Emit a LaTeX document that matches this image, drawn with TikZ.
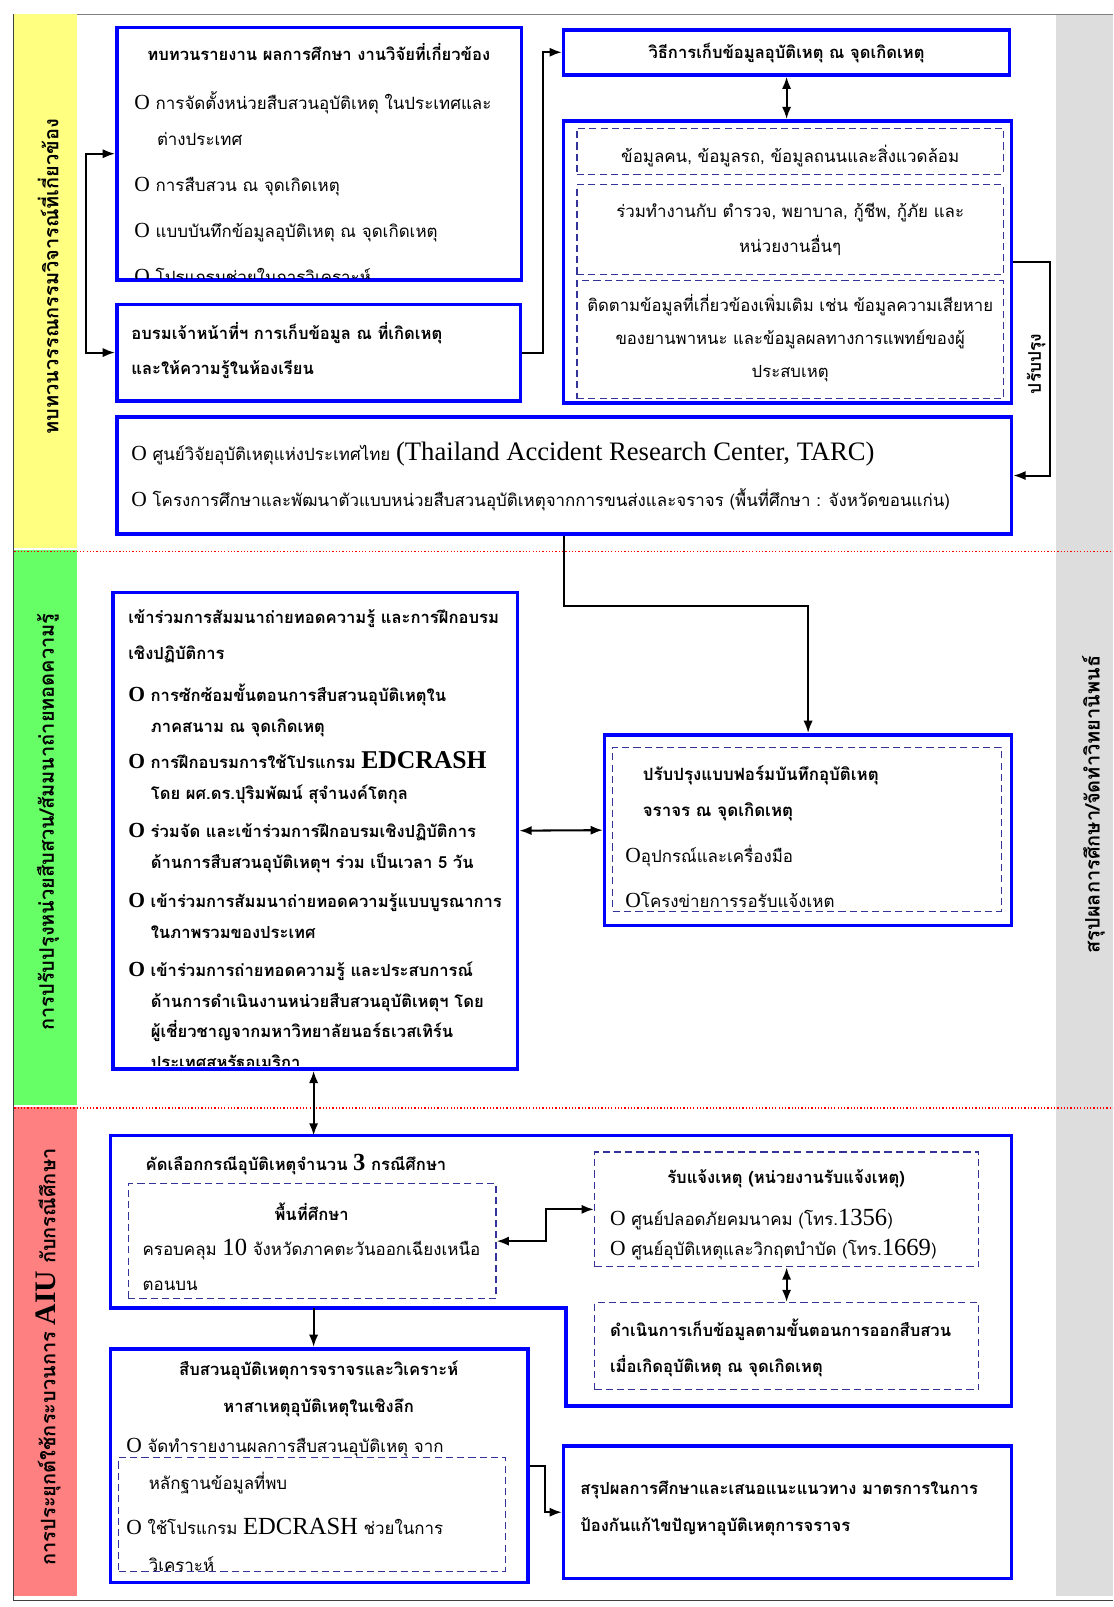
\documentclass[tikz,border=0pt]{standalone}
\usepackage{fontspec}
\setmainfont{Liberation Serif}
\newfontfamily\thai[Script=Thai]{Loma}
\usepackage{tikz}
\usetikzlibrary{arrows.meta}
\usetikzlibrary{positioning}

\definecolor{boxblue}{RGB}{0,0,255}
\definecolor{dashblue}{RGB}{51,51,153}
\definecolor{bandyellow}{RGB}{255,255,128}
\definecolor{bandgreen}{RGB}{102,255,102}
\definecolor{bandred}{RGB}{255,128,128}
\definecolor{bandgray}{RGB}{221,221,221}

\newcommand{\bul}{{\rmfamily\fontsize{21pt}{21pt}\selectfont O}\ }
\newcommand{\lat}[1]{{\rmfamily\fontsize{24pt}{24pt}\selectfont #1}}
\newcommand{\indt}{\hspace*{22pt}}

\begin{document}
\begin{tikzpicture}[x=1pt, y=-1pt,
    blue box/.style={draw=boxblue, line width=3.5pt, inner sep=0pt},
    dash box/.style={draw=dashblue, line width=1.1pt,
      dash pattern=on 7pt off 4pt, inner sep=0pt},
    txt/.style={inner sep=0pt, align=left,
      font=\thai\fontsize{16.5pt}{35pt}\selectfont},
    btxt/.style={txt, font=\thai\bfseries\fontsize{16.2pt}{35pt}\selectfont},
    side label/.style={inner sep=0pt, rotate=90,
      font=\thai\bfseries\fontsize{19.5pt}{22pt}\selectfont},
    arr/.style={-{Latex[length=12pt,width=9pt]}, line width=2pt},
    dbl/.style={{Latex[length=12pt,width=9pt]}-{Latex[length=12pt,width=9pt]}, line width=2pt}]
  \useasboundingbox (0,0) rectangle (1086,1568);

  \fill[bandyellow] (14,14) rectangle (75,535);
  \fill[bandgreen] (14,537) rectangle (75,1078);
  \fill[bandred] (14,1080) rectangle (75,1557);
  \fill[bandgray] (1030,14) rectangle (1086,1557);
  \draw[gray, line width=1pt] (75,14) -- (1086,14);
  \draw[black!75, line width=1pt] (13,14) -- (13,1562) -- (1086,1562);
  \draw[red, dotted, line width=1.2pt] (14,538) -- (1086,538);
  \draw[red, dotted, line width=1.2pt] (14,1081) -- (1086,1081);

  \node[side label] (litlabel) at (47,270) {ทบทวนวรรณกรรมวิจารณ์ที่เกี่ยวข้อง};
  \node[side label] (unitlabel) at (47,802)
    {การปรับปรุงหน่วยสืบสวน/สัมมนาถ่ายทอดความรู้};
  \node[side label] (aiulabel) at (47,1324)
    {การประยุกต์ใช้กระบวนการ {\rmfamily\fontsize{29pt}{29pt}\selectfont AIU} กับกรณีศึกษา};
  \node[side label] (thesislabel) at (1067,785) {สรุปผลการศึกษา/จัดทำวิทยานิพนธ์};

  % section 1
  \node[blue box, minimum width=395pt, minimum height=246pt] (review) at (311.5,150) {};
  \node[btxt] (reviewtitle) at (311,51) {ทบทวนรายงาน ผลการศึกษา งานวิจัยที่เกี่ยวข้อง};
  \begin{scope}
    \clip ([shift={(2,2)}]review.north west) rectangle ([shift={(-2,-3)}]review.south east);
    \node[txt, anchor=west] (reviewlist) at (131,183) {%
      \bul การจัดตั้งหน่วยสืบสวนอุบัติเหตุ ในประเทศและ\\
      \indt ต่างประเทศ\\[10pt]
      \bul การสืบสวน ณ จุดเกิดเหตุ\\[10pt]
      \bul แบบบันทึกข้อมูลอุบัติเหตุ ณ จุดเกิดเหตุ\\[10pt]
      \bul โปรแกรมช่วยในการวิเคราะห์};
  \end{scope}
  \node[blue box, minimum width=394pt, minimum height=94pt] (train) at (311,344) {};
  \node[btxt, anchor=west] (traintxt) at (128,342)
    {อบรมเจ้าหน้าที่ฯ การเก็บข้อมูล ณ ที่เกิดเหตุ\\ และให้ความรู้ในห้องเรียน};
  \node[blue box, minimum width=435pt, minimum height=44pt] (method) at (767.5,51) {};
  \node[btxt] (methodtxt) at (767.5,52) {วิธีการเก็บข้อมูลอุบัติเหตุ ณ จุดเกิดเหตุ};
  \node[blue box, minimum width=437pt, minimum height=275pt] (data) at (768.5,255.5) {};
  \node[dash box, minimum width=416pt, minimum height=45pt] (people) at (771,147.5) {};
  \node[dash box, minimum width=416pt, minimum height=88pt] (agency) at (771,224) {};
  \node[dash box, minimum width=416pt, minimum height=115pt] (follow) at (771,331.5) {};
  \node[txt, align=center] (peopletxt) at (771,152)
    {ข้อมูลคน, ข้อมูลรถ, ข้อมูลถนนและสิ่งแวดล้อม};
  \node[txt, align=center, font=\thai\fontsize{16.5pt}{34pt}\selectfont] (agencytxt) at (771,224)
    {ร่วมทำงานกับ ตำรวจ, พยาบาล, กู้ชีพ, กู้ภัย และ\\ หน่วยงานอื่นๆ};
  \node[txt, align=center, font=\thai\fontsize{16.3pt}{32pt}\selectfont] (followtxt) at (771,330)
    {ติดตามข้อมูลที่เกี่ยวข้องเพิ่มเติม เช่น ข้อมูลความเสียหาย\\
     ของยานพาหนะ และข้อมูลผลทางการแพทย์ของผู้\\ ประสบเหตุ};
  \node[blue box, minimum width=873pt, minimum height=114pt] (tarc) at (550.5,464) {};
  \node[txt, anchor=west, font=\thai\fontsize{16.5pt}{45pt}\selectfont] (tarctxt) at (128,464.5)
    {\bul ศูนย์วิจัยอุบัติเหตุแห่งประเทศไทย {\rmfamily\fontsize{26pt}{26pt}\selectfont (Thailand Accident Research Center, TARC)}\\
     \bul โครงการศึกษาและพัฒนาตัวแบบหน่วยสืบสวนอุบัติเหตุจากการขนส่งและจราจร (พื้นที่ศึกษา : จังหวัดขอนแก่น)};
  \node[txt, font=\thai\bfseries\fontsize{17pt}{20pt}\selectfont] (improve) at (1011,355) [rotate=90] {ปรับปรุง};

  \coordinate (fork) at (84,247);
  \draw[arr] (fork) |- (review.west);
  \draw[arr] (fork) |- (train.west);
  \draw[arr] (train.east) -- ++(20,0) |- (method.west);
  \draw[dbl] (method.south) -- (method.south |- data.north);
  \draw[arr] (data.east) -- ++(36,0) |- (tarc.east);

  % section 2
  \node[blue box, minimum width=395pt, minimum height=465pt] (seminar) at (307.5,810.5) {};
  \begin{scope}
    \clip ([shift={(2,2)}]seminar.north west) rectangle ([shift={(-2,-5)}]seminar.south east);
    \node[btxt, anchor=west, font=\thai\bfseries\fontsize{16.2pt}{30pt}\selectfont] (seminartxt) at (125,821) {%
      เข้าร่วมการสัมมนาถ่ายทอดความรู้ และการฝึกอบรม\\[5pt]
      เชิงปฏิบัติการ\\[11pt]
      \bul การซักซ้อมขั้นตอนการสืบสวนอุบัติเหตุใน\\
      \indt ภาคสนาม ณ จุดเกิดเหตุ\\[5pt]
      \bul การฝึกอบรมการใช้โปรแกรม {\rmfamily\fontsize{25pt}{25pt}\selectfont EDCRASH}\\
      \indt โดย ผศ.ดร.ปุริมพัฒน์ สุจำนงค์โตกุล\\[8pt]
      \bul ร่วมจัด และเข้าร่วมการฝึกอบรมเชิงปฏิบัติการ\\
      \indt ด้านการสืบสวนอุบัติเหตุฯ ร่วม เป็นเวลา 5 วัน\\[8pt]
      \bul เข้าร่วมการสัมมนาถ่ายทอดความรู้แบบบูรณาการ\\
      \indt ในภาพรวมของประเทศ\\[7pt]
      \bul เข้าร่วมการถ่ายทอดความรู้ และประสบการณ์\\
      \indt ด้านการดำเนินงานหน่วยสืบสวนอุบัติเหตุฯ โดย\\
      \indt ผู้เชี่ยวชาญจากมหาวิทยาลัยนอร์ธเวสเทิร์น\\
      \indt ประเทศสหรัฐอเมริกา};
  \end{scope}
  \node[blue box, minimum width=397pt, minimum height=186pt] (form) at (788.5,810) {};
  \node[dash box, minimum width=379pt, minimum height=160pt] (forminner) at (787.5,809) {};
  \node[txt, anchor=west, font=\thai\fontsize{16.5pt}{44pt}\selectfont] (formtxt) at (610,816)
    {\hspace*{17pt}{\bfseries ปรับปรุงแบบฟอร์มบันทึกอุบัติเหตุ}\\[-8pt]
     \hspace*{17pt}{\bfseries จราจร ณ จุดเกิดเหตุ}\\
     {\rmfamily\fontsize{21pt}{21pt}\selectfont O}อุปกรณ์และเครื่องมือ\\
     {\rmfamily\fontsize{21pt}{21pt}\selectfont O}โครงข่ายการรอรับแจ้งเหต};

  \draw[arr] (tarc.south) -- ++(0,69) -| (form.north);
  \draw[dbl] (seminar.east) -- (form.west);

  % section 3
  \draw[blue box] (108,1108) -- (987,1108) -- (987,1372) -- (552,1372)
    -- (552,1276) -- (108,1276) -- cycle;
  \coordinate (casetop) at (306,1108);
  \coordinate (casebot) at (306,1276);
  \node[btxt, anchor=west] (casetitle) at (142,1136)
    {คัดเลือกกรณีอุบัติเหตุจำนวน {\rmfamily\fontsize{24pt}{24pt}\selectfont 3} กรณีศึกษา};
  \node[dash box, minimum width=359pt, minimum height=112pt] (area) at (304.5,1211) {};
  \node[btxt] (areatitle) at (304,1182) {พื้นที่ศึกษา};
  \node[txt, anchor=west, font=\thai\fontsize{16.5pt}{34pt}\selectfont] (areatxt) at (139,1234)
    {ครอบคลุม \lat{10} จังหวัดภาคตะวันออกเฉียงเหนือ\\ ตอนบน};
  \node[dash box, minimum width=375pt, minimum height=112pt] (notify) at (767.5,1180) {};
  \node[btxt] (notifytitle) at (767,1150) {รับแจ้งเหตุ (หน่วยงานรับแจ้งเหตุ)};
  \node[txt, anchor=west, font=\thai\fontsize{16.5pt}{29pt}\selectfont] (notifytxt) at (595,1204.5)
    {\bul ศูนย์ปลอดภัยคมนาคม (โทร.\lat{1356})\\
     \bul ศูนย์อุบัติเหตุและวิกฤตบำบัด (โทร.\lat{1669})};
  \node[dash box, minimum width=375pt, minimum height=85pt] (collect) at (767.5,1313.5) {};
  \node[btxt, anchor=west] (collecttxt) at (595,1315.5)
    {ดำเนินการเก็บข้อมูลตามขั้นตอนการออกสืบสวน\\ เมื่อเกิดอุบัติเหตุ ณ จุดเกิดเหตุ};

  \node[blue box, minimum width=407pt, minimum height=228pt] (investigate) at (311.5,1430) {};
  \node[dash box, minimum width=377pt, minimum height=111pt] (toolbox) at (304.5,1477.5) {};
  \node[btxt, align=center, font=\thai\bfseries\fontsize{16.2pt}{36pt}\selectfont] (investtitle) at (311,1355)
    {สืบสวนอุบัติเหตุการจราจรและวิเคราะห์\\ หาสาเหตุอุบัติเหตุในเชิงลึก};
  \node[txt, anchor=west, font=\thai\fontsize{16.5pt}{36pt}\selectfont] (investtxt) at (123,1468)
    {\bul จัดทำรายงานผลการสืบสวนอุบัติเหตุ จาก\\
     \indt หลักฐานข้อมูลที่พบ\\[8pt]
     \bul ใช้โปรแกรม \lat{EDCRASH} ช่วยในการ\\
     \indt วิเคราะห์};
  \node[blue box, minimum width=437pt, minimum height=129pt] (summary) at (768.5,1475.5) {};
  \node[btxt, anchor=west, font=\thai\bfseries\fontsize{16.2pt}{36pt}\selectfont] (summarytxt) at (566,1472)
    {สรุปผลการศึกษาและเสนอแนะแนวทาง มาตรการในการ\\ ป้องกันแก้ไขปัญหาอุบัติเหตุการจราจร};

  \draw[dbl] (seminar.south -| casetop) -- (casetop);
  \draw[arr] (casebot) -- (casebot |- investigate.north);
  \draw[dbl] (area.east) -- ++(48,0) |- (notify.west);
  \draw[dbl] (notify.south) -- (collect.north);
  \draw[arr] (investigate.east) -- ++(15,0) |- (summary.west);
\end{tikzpicture}
\end{document}
